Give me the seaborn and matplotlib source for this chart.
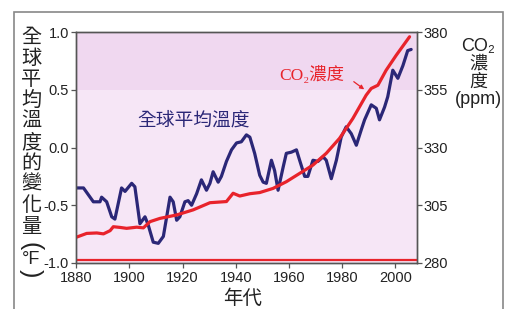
import numpy as np
import pandas as pd
import seaborn as sns
import matplotlib.pyplot as plt
from matplotlib.patches import Rectangle
from matplotlib.ticker import FixedLocator, FixedFormatter

# global mean temperature change (°F)
temp_years = [1880, 1882.8, 1886.5, 1889, 1889.6, 1891.5, 1893.4, 1894.6, 1897.1, 1898.4,
              1900.9, 1902.1, 1904, 1905.9, 1907.1, 1909, 1910.9, 1912.8, 1915.3, 1916.5,
              1917.8, 1919, 1920.9, 1922.1, 1923.4, 1925.3, 1927.1, 1929, 1930.3, 1931.5,
              1933.4, 1934.6, 1936.5, 1938.4, 1940.3, 1942.1, 1944, 1945.3, 1947.1, 1949,
              1950.3, 1951.5, 1953.4, 1954.6, 1955.9, 1957.8, 1959, 1960.9, 1962.8, 1964,
              1965.9, 1967.1, 1969, 1970.9, 1972.8, 1974, 1975.9, 1977.8, 1979.6, 1981.5,
              1983.4, 1985.3, 1987.1, 1988.4, 1990.9, 1992.8, 1994, 1995.9, 1997.1, 1999,
              2000.9, 2002.8, 2004.6, 2005.9]
temp_f = [-0.35, -0.35, -0.47, -0.47, -0.43, -0.47, -0.60, -0.62, -0.35, -0.38,
          -0.31, -0.34, -0.66, -0.60, -0.67, -0.82, -0.83, -0.77, -0.43, -0.47,
          -0.63, -0.60, -0.47, -0.46, -0.50, -0.40, -0.28, -0.37, -0.31, -0.21,
          -0.30, -0.25, -0.12, -0.02, 0.04, 0.05, 0.11, 0.09, -0.05, -0.24,
          -0.30, -0.31, -0.11, -0.20, -0.37, -0.17, -0.05, -0.04, -0.02, -0.11,
          -0.25, -0.25, -0.11, -0.12, -0.08, -0.11, -0.27, -0.11, 0.09, 0.18,
          0.12, 0.02, 0.15, 0.24, 0.37, 0.34, 0.24, 0.35, 0.44, 0.67,
          0.60, 0.71, 0.84, 0.85]

# CO2 concentration (ppm)
co2_years = [1880, 1884, 1887.8, 1890.3, 1892.8, 1894, 1896.5, 1899, 1902.8, 1905.3,
             1907.8, 1911.5, 1917.8, 1924, 1930.3, 1936.5, 1939, 1941.5, 1945.3, 1949,
             1954, 1959, 1964, 1969, 1974, 1979, 1984, 1989, 1990.9, 1993.4,
             1996.5, 2000.3, 2005.3]
co2_ppm = [291.1, 292.8, 293.0, 292.6, 294.0, 295.7, 295.4, 295.0, 295.5, 295.2,
           297.9, 299.3, 300.8, 303.0, 306.1, 306.6, 310.2, 309.0, 310.0, 310.5,
           312.3, 315.2, 318.8, 322.4, 327.5, 334.0, 342.6, 352.7, 355.6, 357.0,
           363.5, 370.0, 378.0]

year_ticks = [1880, 1900, 1920, 1940, 1960, 1980, 2000]
temp_ticks = [-1.0, -0.5, 0.0, 0.5, 1.0]
temp_tick_labels = ['-1.0', '-0.5', '0.0', '0.5', '1.0']
co2_ticks = [280, 305, 330, 355, 380]

navy = '#2b2777'
red = '#e8232b'
text_col = '#222222'

sns.set_style("white")
plt.rcParams['font.family'] = ['Liberation Sans', 'Noto Sans CJK TC', 'DejaVu Sans']
cjk = ['Noto Sans CJK TC', 'DejaVu Sans']

temp_df = pd.DataFrame({'year': temp_years, 'temp': temp_f})
co2_df = pd.DataFrame({'year': co2_years, 'co2': co2_ppm})

fig = plt.figure(figsize=(5.07, 3.09), dpi=100)
ax = fig.add_axes([0.150, 0.149, 0.672, 0.747])
ax.set_facecolor('#f6e6f6')
ax.axhspan(0.5, 1.0, color='#f0d8f0', zorder=0, lw=0)

sns.lineplot(data=temp_df, x='year', y='temp', ax=ax, color=navy, lw=2.3)
ax.set_xlim(1880, 2008)
ax.set_ylim(-1, 1)
ax.set_xlabel('')
ax.set_ylabel('')

ax2 = ax.twinx()
sns.lineplot(data=co2_df, x='year', y='co2', ax=ax2, color=red, lw=2.3)
ax2.axhline(281.3, color=red, lw=1.6)
ax2.set_ylim(280, 380)
ax2.set_ylabel('')

ax.xaxis.set_major_locator(FixedLocator(year_ticks))
ax.yaxis.set_major_locator(FixedLocator(temp_ticks))
ax.yaxis.set_major_formatter(FixedFormatter(temp_tick_labels))
ax2.yaxis.set_major_locator(FixedLocator(co2_ticks))

for a in (ax, ax2):
    for s in a.spines.values():
        s.set_color('#555555')
        s.set_linewidth(1.0)
    a.tick_params(direction='out', length=3.5, width=0.9, color='#555555',
                  labelsize=10.5, labelcolor=text_col, pad=1.5)
ax.tick_params(axis='x', pad=2, bottom=True)
ax.tick_params(axis='y', left=True)
ax2.tick_params(axis='y', right=True)

ax.text(1924, 0.24, '全球平均溫度', color=navy, fontsize=13.5, family=cjk,
        ha='center', va='center')
ax.text(1956.5, 0.63, 'CO₂濃度', color=red, fontsize=12.5,
        family=['Liberation Serif', 'Noto Sans CJK TC', 'DejaVu Sans'],
        ha='left', va='center')
ax.annotate('', xy=(1989.1, 0.49), xytext=(1983.5, 0.585),
            arrowprops=dict(arrowstyle='-|>', color=red, lw=0.9,
                            mutation_scale=6))

# vertical left label, one character per line
left_chars = ['全', '球', '平', '均', '溫', '度', '的', '變', '化', '量']
fig.text(31 / 507, 1 - 132 / 309, '\n'.join(left_chars), fontsize=14.5, family=cjk,
         color=text_col, ha='center', va='center', linespacing=1.0)
fig.text(31 / 507, 1 - 246 / 309, '(', fontsize=18, rotation=-90, color=text_col,
         ha='center', va='center')
fig.text(31 / 507, 1 - 259 / 309, '°F', fontsize=13, color=text_col,
         ha='center', va='center')
fig.text(31 / 507, 1 - 273 / 309, ')', fontsize=18, rotation=-90, color=text_col,
         ha='center', va='center')

fig.text(478 / 507, 1 - 73 / 309, 'CO₂\n濃\n度\n(ppm)', fontsize=13,
         color=text_col, ha='center', va='center', linespacing=1.05)
fig.text(243 / 507, 1 - 298 / 309, '年代', fontsize=14, family=cjk,
         color=text_col, ha='center', va='center')

fig.patches.append(Rectangle((14 / 507, -0.02), (503 - 14) / 507, 1 - 12 / 309 + 0.02,
                             transform=fig.transFigure, fill=False,
                             edgecolor='#888888', lw=1.2))

fig.savefig('out.png', dpi=100)
